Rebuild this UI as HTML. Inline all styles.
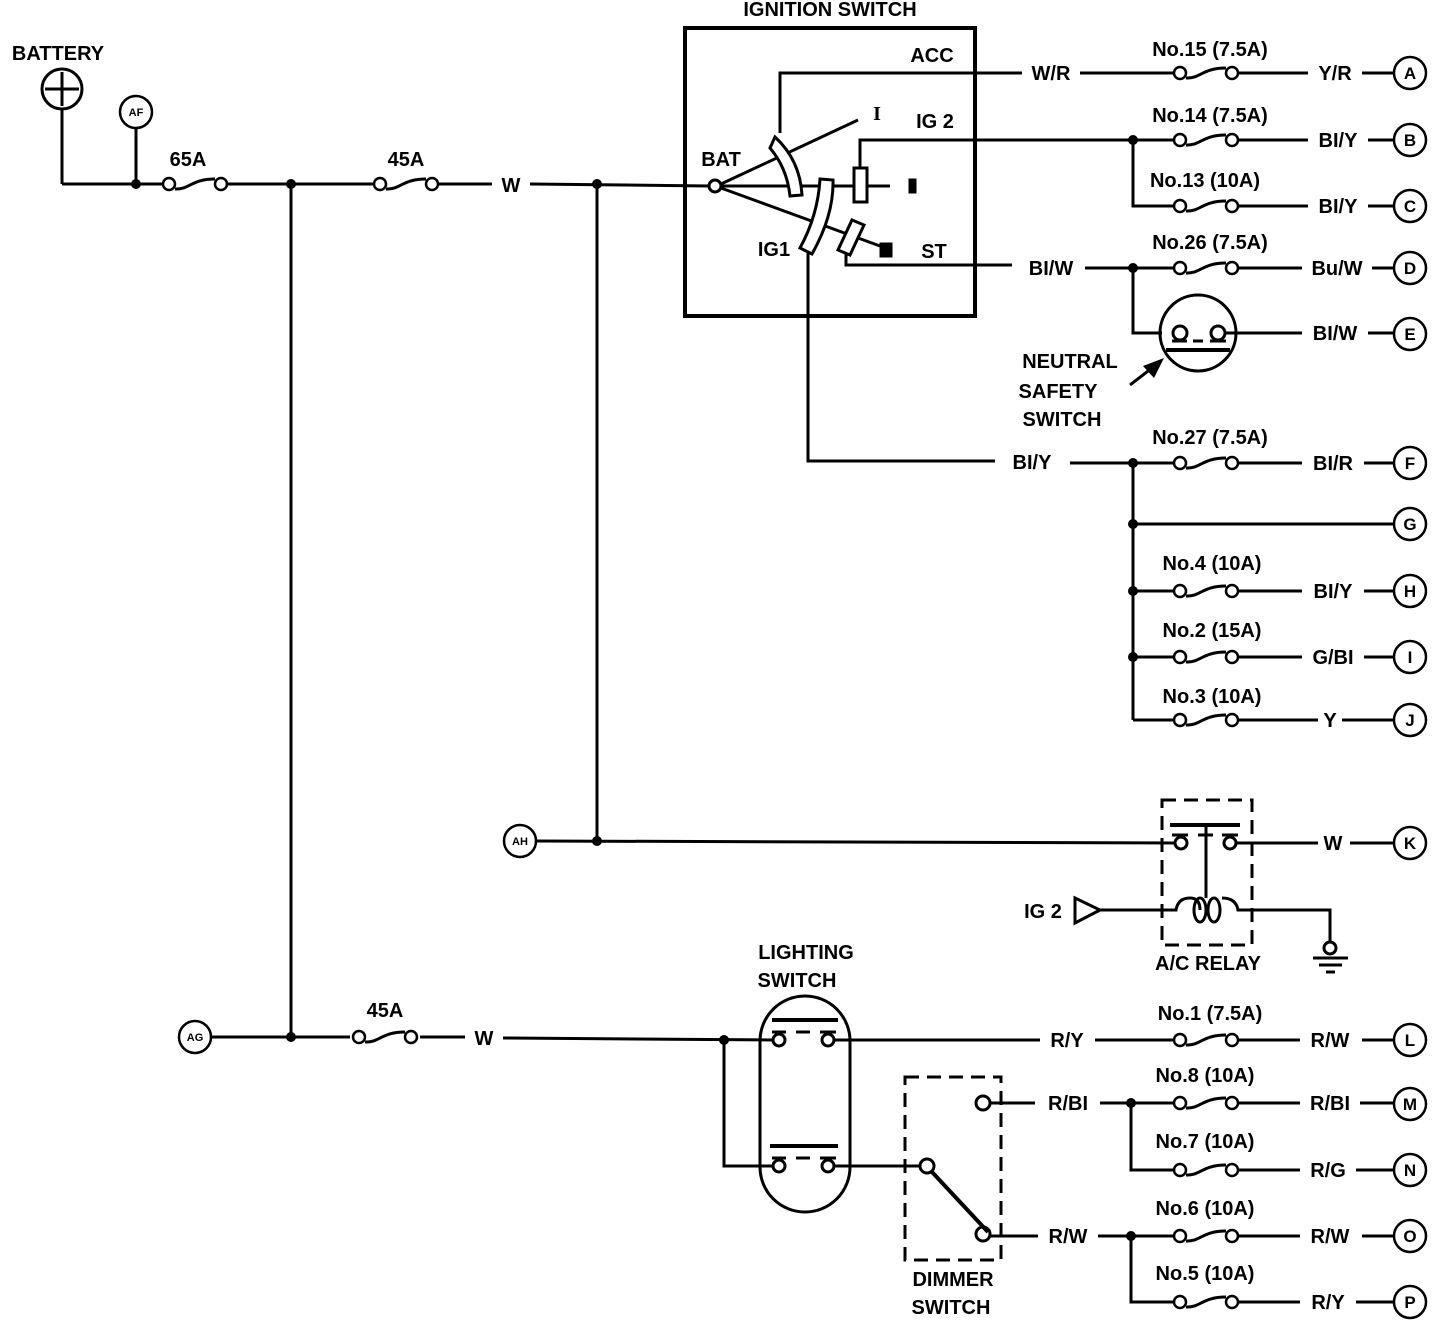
<!DOCTYPE html>
<html><head><meta charset="utf-8"><style>
html,body{margin:0;padding:0;background:#fff;}
svg{display:block;}
text{font-family:"Liberation Sans",sans-serif;font-weight:bold;font-size:20px;fill:#000;}
.m text{text-anchor:middle;}
text.s{font-size:11px;}
text.l{font-size:17px;}
</style></head><body>
<svg width="1456" height="1342" viewBox="0 0 1456 1342" xmlns="http://www.w3.org/2000/svg">
<defs>
<g id="f" fill="none" stroke="#000" stroke-width="2.5">
<circle cx="-26" cy="0" r="6" fill="#fff"/><circle cx="26" cy="0" r="6" fill="#fff"/>
<path d="M-20 5 C-6 6 -4 -5 20 -5" stroke-width="3"/>
</g>
<g id="t" fill="#fff" stroke="#000" stroke-width="2.5"><circle r="16"/></g>
</defs>
<g stroke="#000" stroke-width="3" fill="none">
<circle cx="62" cy="89" r="20"/>
<line x1="62" y1="72" x2="62" y2="106"/><line x1="45" y1="89" x2="79" y2="89"/>
<line x1="62" y1="109" x2="62" y2="184"/>
<line x1="136" y1="128" x2="136" y2="184"/>
<line x1="62" y1="184" x2="164" y2="184"/>
<line x1="226" y1="184" x2="374" y2="184"/>
<line x1="438" y1="184" x2="492" y2="184"/>
<line x1="530" y1="184" x2="709" y2="186"/>
<line x1="291" y1="184" x2="291" y2="1037"/>
<line x1="597" y1="184" x2="597" y2="841"/>
<rect x="685" y="28" width="290" height="288" stroke-width="4"/>
<circle cx="715" cy="186" r="6" fill="#fff"/>
<line x1="721" y1="184" x2="858" y2="120"/>
<line x1="721" y1="186" x2="890" y2="186"/>
<line x1="721" y1="188" x2="880" y2="246"/>
<path d="M780 133 L780 73 L1022 73"/>
<path d="M775 137 Q800 160 802 195 L790 196 Q787 168 770 148 Z" fill="#fff" stroke-width="3"/>
<path d="M820 179 L833 180 Q834 215 812 254 L800 248 Q818 215 820 179 Z" fill="#fff" stroke-width="3"/>
<rect x="854" y="168" width="13" height="34" fill="#fff" stroke-width="3"/>
<path d="M860 168 L860 140 L1133 140"/>
<path d="M852 220 L864 225 L850 255 L838 250 Z" fill="#fff" stroke-width="3"/>
<path d="M846 253 L846 265 L1012 265"/>
<path d="M808 251 L808 461 L995 461"/>
<rect x="910" y="180" width="5" height="12" fill="#000"/>
<rect x="881" y="244" width="10" height="12" fill="#000"/>
<line x1="1080" y1="73" x2="1174" y2="73"/><line x1="1238" y1="73" x2="1308" y2="73"/><line x1="1362" y1="73" x2="1394" y2="73"/>
<line x1="1133" y1="140" x2="1174" y2="140"/><line x1="1238" y1="140" x2="1308" y2="140"/><line x1="1368" y1="140" x2="1394" y2="140"/>
<path d="M1133 140 L1133 206 L1174 206"/><line x1="1238" y1="206" x2="1308" y2="206"/><line x1="1368" y1="206" x2="1394" y2="206"/>
<line x1="1085" y1="268" x2="1174" y2="268"/><line x1="1238" y1="268" x2="1302" y2="268"/><line x1="1372" y1="268" x2="1394" y2="268"/>
<path d="M1133 268 L1133 333 L1162 333"/>
<circle cx="1198" cy="333" r="38"/>
<circle cx="1180" cy="333" r="7"/><circle cx="1218" cy="333" r="7"/>
<line x1="1172" y1="341" x2="1187" y2="341"/><line x1="1193" y1="341" x2="1203" y2="341"/><line x1="1210" y1="341" x2="1226" y2="341"/>
<line x1="1166" y1="350" x2="1230" y2="350" stroke-width="4"/>
<line x1="1225" y1="333" x2="1302" y2="333"/><line x1="1368" y1="333" x2="1394" y2="333"/>
<line x1="1130" y1="385" x2="1152" y2="368"/>
<line x1="1070" y1="463" x2="1174" y2="463"/><line x1="1238" y1="463" x2="1302" y2="463"/><line x1="1364" y1="463" x2="1394" y2="463"/>
<line x1="1133" y1="463" x2="1133" y2="720"/>
<line x1="1133" y1="524" x2="1394" y2="524"/>
<line x1="1133" y1="591" x2="1174" y2="591"/><line x1="1238" y1="591" x2="1302" y2="591"/><line x1="1364" y1="591" x2="1394" y2="591"/>
<line x1="1133" y1="657" x2="1174" y2="657"/><line x1="1238" y1="657" x2="1302" y2="657"/><line x1="1364" y1="657" x2="1394" y2="657"/>
<line x1="1133" y1="720" x2="1174" y2="720"/><line x1="1238" y1="720" x2="1318" y2="720"/><line x1="1342" y1="720" x2="1394" y2="720"/>
<line x1="536" y1="841" x2="1175" y2="843"/>
<rect x="1162" y="800" width="90" height="145" stroke-dasharray="14 8"/>
<line x1="1170" y1="825" x2="1240" y2="825" stroke-width="4"/>
<circle cx="1181" cy="843" r="6" fill="#fff"/><circle cx="1230" cy="843" r="6" fill="#fff"/>
<line x1="1172" y1="835" x2="1188" y2="835"/><line x1="1222" y1="835" x2="1238" y2="835"/><line x1="1198" y1="835" x2="1213" y2="835"/>
<line x1="1206" y1="825" x2="1206" y2="898"/>
<line x1="1236" y1="843" x2="1318" y2="843"/><line x1="1350" y1="843" x2="1394" y2="843"/>
<path d="M1075 898 L1100 910 L1075 923 Z"/>
<path d="M1100 910 L1176 910 Q1178 898 1190 898 Q1200 898 1200 910"/>
<ellipse cx="1200" cy="910" rx="6" ry="12"/><ellipse cx="1214" cy="910" rx="6" ry="12"/>
<path d="M1222 898 Q1236 898 1238 910 L1330 910 L1330 942"/>
<circle cx="1330" cy="948" r="6"/>
<line x1="1313" y1="958" x2="1348" y2="958"/><line x1="1319" y1="965" x2="1342" y2="965"/><line x1="1326" y1="972" x2="1335" y2="972"/>
<line x1="212" y1="1037" x2="350" y2="1037"/><line x1="420" y1="1037" x2="465" y2="1037"/><line x1="503" y1="1038" x2="772" y2="1040"/>
<path d="M724 1040 L724 1166 L772 1166"/>
<rect x="760" y="996" width="90" height="216" rx="45"/>
<line x1="772" y1="1020" x2="838" y2="1020" stroke-width="4"/><line x1="770" y1="1146" x2="838" y2="1146" stroke-width="4"/>
<circle cx="779" cy="1040" r="6" fill="#fff"/><circle cx="828" cy="1040" r="6" fill="#fff"/>
<circle cx="779" cy="1166" r="6" fill="#fff"/><circle cx="828" cy="1166" r="6" fill="#fff"/>
<line x1="772" y1="1032" x2="786" y2="1032"/><line x1="796" y1="1032" x2="810" y2="1032"/><line x1="820" y1="1032" x2="836" y2="1032"/>
<line x1="772" y1="1158" x2="786" y2="1158"/><line x1="796" y1="1158" x2="810" y2="1158"/><line x1="820" y1="1158" x2="836" y2="1158"/>
<line x1="834" y1="1040" x2="1040" y2="1040"/><line x1="1095" y1="1040" x2="1174" y2="1040"/><line x1="1238" y1="1040" x2="1300" y2="1040"/><line x1="1362" y1="1040" x2="1394" y2="1040"/>
<line x1="834" y1="1166" x2="920" y2="1166"/>
<rect x="905" y="1077" width="96" height="183" stroke-dasharray="14 8"/>
<circle cx="983" cy="1103" r="7" fill="#fff"/><circle cx="927" cy="1166" r="7" fill="#fff"/><circle cx="983" cy="1234" r="7" fill="#fff"/>
<line x1="932" y1="1172" x2="988" y2="1232" stroke-width="4"/>
<line x1="990" y1="1103" x2="1035" y2="1103"/><line x1="1100" y1="1103" x2="1174" y2="1103"/><line x1="1238" y1="1103" x2="1300" y2="1103"/><line x1="1360" y1="1103" x2="1394" y2="1103"/>
<path d="M1131 1103 L1131 1170 L1174 1170"/><line x1="1238" y1="1170" x2="1300" y2="1170"/><line x1="1356" y1="1170" x2="1394" y2="1170"/>
<line x1="990" y1="1236" x2="1038" y2="1236"/><line x1="1098" y1="1236" x2="1174" y2="1236"/><line x1="1238" y1="1236" x2="1300" y2="1236"/><line x1="1362" y1="1236" x2="1394" y2="1236"/>
<path d="M1131 1236 L1131 1302 L1174 1302"/><line x1="1238" y1="1302" x2="1300" y2="1302"/><line x1="1356" y1="1302" x2="1394" y2="1302"/>
</g>
<path d="M1164 358 L1143 366 L1154 378 Z" fill="#000"/>
<g fill="#000">
<circle cx="136" cy="184" r="5"/><circle cx="291" cy="184" r="5"/><circle cx="597" cy="184" r="5"/>
<circle cx="1133" cy="140" r="5"/><circle cx="1133" cy="268" r="5"/><circle cx="1133" cy="463" r="5"/><circle cx="1133" cy="524" r="5"/><circle cx="1133" cy="591" r="5"/><circle cx="1133" cy="657" r="5"/>
<circle cx="597" cy="841" r="5"/><circle cx="291" cy="1037" r="5"/><circle cx="724" cy="1040" r="5"/><circle cx="1131" cy="1103" r="5"/><circle cx="1131" cy="1236" r="5"/>
</g>
<use href="#f" x="195" y="184"/><use href="#f" x="406" y="184"/><use href="#f" x="385" y="1037"/>
<use href="#f" x="1206" y="73"/><use href="#f" x="1206" y="140"/><use href="#f" x="1206" y="206"/><use href="#f" x="1206" y="268"/>
<use href="#f" x="1206" y="463"/><use href="#f" x="1206" y="591"/><use href="#f" x="1206" y="657"/><use href="#f" x="1206" y="720"/>
<use href="#f" x="1206" y="1040"/><use href="#f" x="1206" y="1103"/><use href="#f" x="1206" y="1170"/><use href="#f" x="1206" y="1236"/><use href="#f" x="1206" y="1302"/>
<use href="#t" x="136" y="112"/><use href="#t" x="520" y="841"/><use href="#t" x="195" y="1037"/>
<use href="#t" x="1410" y="73"/><use href="#t" x="1410" y="140"/><use href="#t" x="1410" y="206"/><use href="#t" x="1410" y="268"/><use href="#t" x="1410" y="334"/>
<use href="#t" x="1410" y="463"/><use href="#t" x="1410" y="524"/><use href="#t" x="1410" y="591"/><use href="#t" x="1410" y="657"/><use href="#t" x="1410" y="720"/>
<use href="#t" x="1410" y="843"/><use href="#t" x="1410" y="1040"/><use href="#t" x="1410" y="1104"/><use href="#t" x="1410" y="1170"/><use href="#t" x="1410" y="1236"/><use href="#t" x="1410" y="1302"/>
<g class="m">
<text class="s" x="136" y="116">AF</text><text class="s" x="520" y="845">AH</text><text class="s" x="195" y="1041">AG</text>
<text class="l" x="1410" y="79">A</text><text class="l" x="1410" y="146">B</text><text class="l" x="1410" y="212">C</text><text class="l" x="1410" y="274">D</text><text class="l" x="1410" y="340">E</text>
<text class="l" x="1410" y="469">F</text><text class="l" x="1410" y="530">G</text><text class="l" x="1410" y="597">H</text><text class="l" x="1410" y="663">I</text><text class="l" x="1410" y="726">J</text>
<text class="l" x="1410" y="849">K</text><text class="l" x="1410" y="1046">L</text><text class="l" x="1410" y="1110">M</text><text class="l" x="1410" y="1176">N</text><text class="l" x="1410" y="1242">O</text><text class="l" x="1410" y="1308">P</text>
<text x="58" y="60">BATTERY</text>
<text x="188" y="166">65A</text><text x="406" y="166">45A</text><text x="511" y="192">W</text>
<text x="830" y="16">IGNITION SWITCH</text>
<text x="932" y="62">ACC</text><text x="935" y="128">IG 2</text><text x="721" y="166">BAT</text><text x="774" y="256">IG1</text><text x="934" y="258">ST</text>
<text x="877" y="120" style="font-family:'Liberation Serif',serif">I</text>
<text x="1051" y="80">W/R</text><text x="1051" y="275">BI/W</text><text x="1032" y="469">BI/Y</text>
<text x="1210" y="56">No.15 (7.5A)</text><text x="1210" y="122">No.14 (7.5A)</text><text x="1205" y="187">No.13 (10A)</text><text x="1210" y="249">No.26 (7.5A)</text>
<text x="1210" y="444">No.27 (7.5A)</text><text x="1212" y="570">No.4 (10A)</text><text x="1212" y="637">No.2 (15A)</text><text x="1212" y="703">No.3 (10A)</text>
<text x="1335" y="80">Y/R</text><text x="1338" y="147">BI/Y</text><text x="1338" y="213">BI/Y</text><text x="1337" y="275">Bu/W</text><text x="1335" y="340">BI/W</text>
<text x="1333" y="470">BI/R</text><text x="1333" y="598">BI/Y</text><text x="1333" y="664">G/BI</text><text x="1330" y="727">Y</text>
<text x="1070" y="368">NEUTRAL</text><text x="1058" y="398">SAFETY</text><text x="1062" y="426">SWITCH</text>
<text x="1333" y="850">W</text><text x="1043" y="918">IG 2</text><text x="1208" y="970">A/C RELAY</text>
<text x="806" y="959">LIGHTING</text><text x="797" y="987">SWITCH</text>
<text x="385" y="1017">45A</text><text x="484" y="1045">W</text>
<text x="1067" y="1047">R/Y</text><text x="1068" y="1110">R/BI</text><text x="1068" y="1243">R/W</text>
<text x="1210" y="1020">No.1 (7.5A)</text><text x="1205" y="1082">No.8 (10A)</text><text x="1205" y="1148">No.7 (10A)</text><text x="1205" y="1215">No.6 (10A)</text><text x="1205" y="1280">No.5 (10A)</text>
<text x="1330" y="1047">R/W</text><text x="1330" y="1110">R/BI</text><text x="1328" y="1177">R/G</text><text x="1330" y="1243">R/W</text><text x="1328" y="1309">R/Y</text>
<text x="953" y="1286">DIMMER</text><text x="951" y="1314">SWITCH</text>
</g>
</svg>
</body></html>
